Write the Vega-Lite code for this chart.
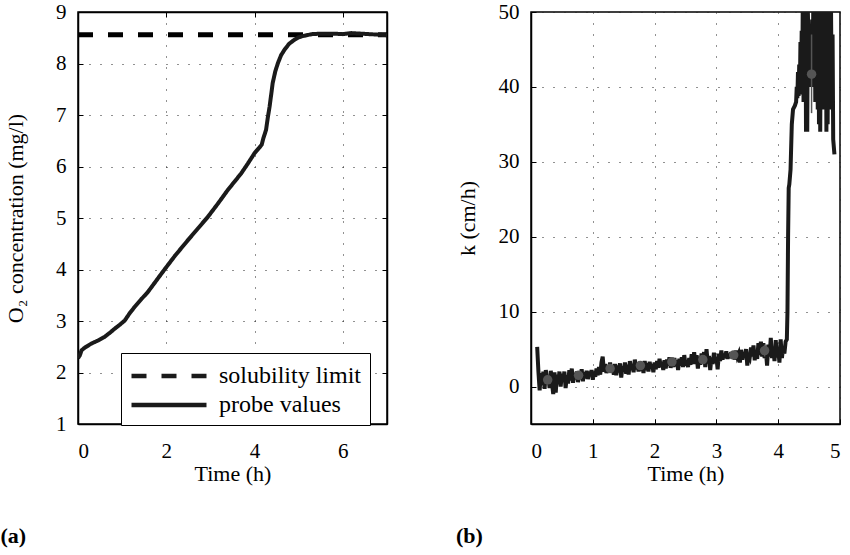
{
  "$schema": "https://vega.github.io/schema/vega-lite/v6.json",
  "background": "white",
  "padding": {"left": -1, "top": 0, "right": 0, "bottom": 0},
  "spacing": 66,
  "config": {
    "font": "Liberation Serif",
    "view": {"stroke": "black", "strokeWidth": 1.5},
    "axis": {
      "labelFont": "Liberation Serif", "labelFontSize": 21, "labelColor": "black",
      "titleFont": "Liberation Serif", "titleFontSize": 22, "titleFontWeight": "normal", "titleColor": "black",
      "domainColor": "black", "domainWidth": 1.5,
      "tickColor": "black", "tickSize": -5, "tickWidth": 1,
      "gridColor": "#222", "gridDash": [1, 10], "gridWidth": 1, "gridOpacity": 1
    },
    "axisX": {"labelPadding": 21, "titlePadding": 2},
    "axisY": {"labelPadding": 17},
    "legend": {
      "labelFont": "Liberation Serif", "labelFontSize": 24, "labelColor": "black"
    }
  },
  "hconcat": [
    {
      "width": 309, "height": 412,
      "title": {"text": "(a)", "orient": "bottom", "anchor": "start", "frame": "bounds", "fontSize": 22, "font": "Liberation Serif", "fontWeight": "bold", "offset": 42, "dx": -4, "color": "black"},
      "layer": [
        {
          "data": {"values": [
            {"t": 0, "v": 8.56, "series": "solubility limit"},
            {"t": 7, "v": 8.56, "series": "solubility limit"}
          ]},
          "mark": {"type": "line", "strokeWidth": 5, "color": "black", "clip": true},
          "encoding": {
            "x": {"field": "t", "type": "quantitative", "scale": {"domain": [0, 7], "nice": false},
                  "axis": {"orient": "bottom", "values": [0, 2, 4, 6], "title": "Time (h)", "grid": true}},
            "y": {"field": "v", "type": "quantitative", "scale": {"domain": [1, 9], "nice": false},
                  "axis": {"orient": "left", "values": [1, 2, 3, 4, 5, 6, 7, 8, 9], "title": "O₂ concentration (mg/l)", "grid": true, "titlePadding": 28}},
            "strokeDash": {"field": "series", "type": "nominal",
              "scale": {"domain": ["solubility limit", "probe values"], "range": [[15, 15], [1, 0]]},
              "legend": {"title": null, "orient": "none", "legendX": 43, "legendY": 341, "strokeColor": "black", "fillColor": "white", "padding": 8,
                         "symbolType": "M-1,0H5", "symbolSize": 625, "symbolStrokeWidth": 4.5, "symbolStrokeColor": "black", "symbolFillColor": "transparent",
                         "labelOffset": 60, "rowPadding": 2, "labelBaseline": "middle"}}
          }
        },
        {
          "data": {"values": [
            {"t": 0, "v": 2.28, "series": "probe values"},
            {"t": 0.04, "v": 2.33, "series": "probe values"},
            {"t": 0.08, "v": 2.43, "series": "probe values"},
            {"t": 0.15, "v": 2.48, "series": "probe values"},
            {"t": 0.3, "v": 2.56, "series": "probe values"},
            {"t": 0.45, "v": 2.62, "series": "probe values"},
            {"t": 0.6, "v": 2.69, "series": "probe values"},
            {"t": 0.72, "v": 2.77, "series": "probe values"},
            {"t": 0.83, "v": 2.85, "series": "probe values"},
            {"t": 0.95, "v": 2.93, "series": "probe values"},
            {"t": 1.06, "v": 3.01, "series": "probe values"},
            {"t": 1.17, "v": 3.15, "series": "probe values"},
            {"t": 1.28, "v": 3.27, "series": "probe values"},
            {"t": 1.43, "v": 3.42, "series": "probe values"},
            {"t": 1.58, "v": 3.56, "series": "probe values"},
            {"t": 1.77, "v": 3.78, "series": "probe values"},
            {"t": 1.96, "v": 4.0, "series": "probe values"},
            {"t": 2.2, "v": 4.27, "series": "probe values"},
            {"t": 2.49, "v": 4.57, "series": "probe values"},
            {"t": 2.72, "v": 4.8, "series": "probe values"},
            {"t": 2.94, "v": 5.02, "series": "probe values"},
            {"t": 3.17, "v": 5.28, "series": "probe values"},
            {"t": 3.39, "v": 5.54, "series": "probe values"},
            {"t": 3.55, "v": 5.71, "series": "probe values"},
            {"t": 3.7, "v": 5.87, "series": "probe values"},
            {"t": 3.85, "v": 6.06, "series": "probe values"},
            {"t": 4.0, "v": 6.26, "series": "probe values"},
            {"t": 4.1, "v": 6.36, "series": "probe values"},
            {"t": 4.16, "v": 6.42, "series": "probe values"},
            {"t": 4.2, "v": 6.55, "series": "probe values"},
            {"t": 4.26, "v": 6.71, "series": "probe values"},
            {"t": 4.3, "v": 6.95, "series": "probe values"},
            {"t": 4.34, "v": 7.16, "series": "probe values"},
            {"t": 4.38, "v": 7.42, "series": "probe values"},
            {"t": 4.41, "v": 7.62, "series": "probe values"},
            {"t": 4.47, "v": 7.85, "series": "probe values"},
            {"t": 4.53, "v": 8.01, "series": "probe values"},
            {"t": 4.6, "v": 8.16, "series": "probe values"},
            {"t": 4.68, "v": 8.27, "series": "probe values"},
            {"t": 4.78, "v": 8.38, "series": "probe values"},
            {"t": 4.9, "v": 8.46, "series": "probe values"},
            {"t": 5.0, "v": 8.51, "series": "probe values"},
            {"t": 5.13, "v": 8.54, "series": "probe values"},
            {"t": 5.3, "v": 8.57, "series": "probe values"},
            {"t": 5.51, "v": 8.58, "series": "probe values"},
            {"t": 5.8, "v": 8.58, "series": "probe values"},
            {"t": 6.0, "v": 8.57, "series": "probe values"},
            {"t": 6.19, "v": 8.59, "series": "probe values"},
            {"t": 6.4, "v": 8.58, "series": "probe values"},
            {"t": 6.6, "v": 8.57, "series": "probe values"},
            {"t": 6.8, "v": 8.56, "series": "probe values"},
            {"t": 7.0, "v": 8.55, "series": "probe values"}
          ]},
          "mark": {"type": "line", "strokeWidth": 4, "color": "#1a1a1a", "clip": true},
          "encoding": {
            "x": {"field": "t", "type": "quantitative", "axis": {"orient": "top", "values": [0, 2, 4, 6], "labels": false, "title": null, "grid": false}},
            "y": {"field": "v", "type": "quantitative", "axis": {"orient": "right", "values": [1, 2, 3, 4, 5, 6, 7, 8, 9], "labels": false, "title": null, "grid": false}},
            "strokeDash": {"field": "series", "type": "nominal"}
          }
        }
      ]
    },
    {
      "width": 309, "height": 412,
      "title": {"text": "(b)", "orient": "bottom", "anchor": "start", "frame": "bounds", "fontSize": 22, "font": "Liberation Serif", "fontWeight": "bold", "offset": 42, "dx": 0, "color": "black"},
      "layer": [
        {
          "data": {"values": [
            {"t": 0.10, "k": 5.3}, {"t": 0.12, "k": 2.0}, {"t": 0.14, "k": -0.5}, {"t": 0.16, "k": 1.8}, {"t": 0.18, "k": 0.2},
            {"t": 0.20, "k": 2.0}, {"t": 0.22, "k": -0.3}, {"t": 0.24, "k": 2.2}, {"t": 0.26, "k": 0.5}, {"t": 0.28, "k": 1.5},
            {"t": 0.30, "k": -0.2}, {"t": 0.32, "k": 2.1}, {"t": 0.34, "k": 0.4}, {"t": 0.36, "k": -1.0}, {"t": 0.38, "k": 1.9},
            {"t": 0.40, "k": -0.8}, {"t": 0.42, "k": 1.6}, {"t": 0.44, "k": 0.3}, {"t": 0.46, "k": 2.0}, {"t": 0.48, "k": 0.0},
            {"t": 0.50, "k": 1.7}, {"t": 0.52, "k": 0.6}, {"t": 0.54, "k": 2.0}, {"t": 0.56, "k": -0.2}, {"t": 0.58, "k": 1.5},
            {"t": 0.60, "k": 0.4}, {"t": 0.62, "k": 2.2}, {"t": 0.64, "k": 0.8}, {"t": 0.66, "k": 2.4}, {"t": 0.68, "k": 0.5},
            {"t": 0.70, "k": 1.8}, {"t": 0.72, "k": 1.0}, {"t": 0.74, "k": 2.0}, {"t": 0.76, "k": 0.6}, {"t": 0.78, "k": 1.6},
            {"t": 0.80, "k": 1.0}, {"t": 0.82, "k": 2.3}, {"t": 0.84, "k": 0.7}, {"t": 0.86, "k": 1.9}, {"t": 0.88, "k": 1.1},
            {"t": 0.90, "k": 2.1}, {"t": 0.92, "k": 1.0}, {"t": 0.94, "k": 2.0}, {"t": 0.96, "k": 1.4}, {"t": 0.98, "k": 2.2},
            {"t": 1.00, "k": 0.9}, {"t": 1.02, "k": 2.0}, {"t": 1.04, "k": 1.3}, {"t": 1.06, "k": 2.4}, {"t": 1.08, "k": 1.5},
            {"t": 1.10, "k": 2.6}, {"t": 1.12, "k": 1.6}, {"t": 1.14, "k": 3.2}, {"t": 1.16, "k": 4.0}, {"t": 1.18, "k": 2.0},
            {"t": 1.20, "k": 3.0}, {"t": 1.22, "k": 1.8}, {"t": 1.24, "k": 2.8}, {"t": 1.26, "k": 2.0}, {"t": 1.28, "k": 3.2},
            {"t": 1.30, "k": 2.1}, {"t": 1.32, "k": 2.6}, {"t": 1.34, "k": 1.6}, {"t": 1.36, "k": 3.0}, {"t": 1.38, "k": 1.5},
            {"t": 1.40, "k": 2.8}, {"t": 1.42, "k": 1.9}, {"t": 1.44, "k": 3.1}, {"t": 1.46, "k": 1.2}, {"t": 1.48, "k": 2.7},
            {"t": 1.50, "k": 2.0}, {"t": 1.52, "k": 3.2}, {"t": 1.54, "k": 1.7}, {"t": 1.56, "k": 2.9}, {"t": 1.58, "k": 1.6},
            {"t": 1.60, "k": 3.4}, {"t": 1.62, "k": 2.2}, {"t": 1.64, "k": 3.0}, {"t": 1.66, "k": 1.9}, {"t": 1.68, "k": 3.6},
            {"t": 1.70, "k": 2.3}, {"t": 1.72, "k": 3.2}, {"t": 1.74, "k": 2.0}, {"t": 1.76, "k": 3.3}, {"t": 1.78, "k": 2.1},
            {"t": 1.80, "k": 3.0}, {"t": 1.82, "k": 1.8}, {"t": 1.84, "k": 3.4}, {"t": 1.86, "k": 2.2}, {"t": 1.88, "k": 3.1},
            {"t": 1.90, "k": 2.0}, {"t": 1.92, "k": 3.3}, {"t": 1.94, "k": 2.4}, {"t": 1.96, "k": 3.0}, {"t": 1.98, "k": 1.9},
            {"t": 2.00, "k": 3.2}, {"t": 2.02, "k": 2.3}, {"t": 2.04, "k": 3.4}, {"t": 2.06, "k": 2.5}, {"t": 2.08, "k": 3.7},
            {"t": 2.10, "k": 2.6}, {"t": 2.12, "k": 3.3}, {"t": 2.14, "k": 2.2}, {"t": 2.16, "k": 3.5}, {"t": 2.18, "k": 2.4},
            {"t": 2.20, "k": 3.6}, {"t": 2.22, "k": 2.8}, {"t": 2.24, "k": 3.9}, {"t": 2.26, "k": 2.5}, {"t": 2.28, "k": 3.4},
            {"t": 2.30, "k": 2.6}, {"t": 2.32, "k": 3.8}, {"t": 2.34, "k": 2.7}, {"t": 2.36, "k": 3.5}, {"t": 2.38, "k": 2.2},
            {"t": 2.40, "k": 3.7}, {"t": 2.42, "k": 2.8}, {"t": 2.44, "k": 3.9}, {"t": 2.46, "k": 2.6}, {"t": 2.48, "k": 4.2},
            {"t": 2.50, "k": 2.8}, {"t": 2.52, "k": 3.5}, {"t": 2.54, "k": 2.6}, {"t": 2.56, "k": 3.8}, {"t": 2.58, "k": 2.9},
            {"t": 2.60, "k": 4.3}, {"t": 2.62, "k": 3.0}, {"t": 2.64, "k": 4.6}, {"t": 2.66, "k": 3.0}, {"t": 2.68, "k": 4.2},
            {"t": 2.70, "k": 2.4}, {"t": 2.72, "k": 4.0}, {"t": 2.74, "k": 2.9}, {"t": 2.76, "k": 4.4}, {"t": 2.78, "k": 3.3},
            {"t": 2.80, "k": 4.6}, {"t": 2.82, "k": 2.6}, {"t": 2.84, "k": 5.0}, {"t": 2.86, "k": 3.1}, {"t": 2.88, "k": 4.1},
            {"t": 2.90, "k": 2.2}, {"t": 2.92, "k": 3.9}, {"t": 2.94, "k": 3.0}, {"t": 2.96, "k": 4.5}, {"t": 2.98, "k": 3.2},
            {"t": 3.00, "k": 3.9}, {"t": 3.02, "k": 2.3}, {"t": 3.04, "k": 4.4}, {"t": 3.06, "k": 3.4}, {"t": 3.08, "k": 4.8},
            {"t": 3.10, "k": 3.6}, {"t": 3.12, "k": 4.4}, {"t": 3.14, "k": 3.8}, {"t": 3.16, "k": 4.7}, {"t": 3.18, "k": 3.7},
            {"t": 3.20, "k": 4.4}, {"t": 3.22, "k": 3.8}, {"t": 3.24, "k": 4.6}, {"t": 3.26, "k": 3.9}, {"t": 3.28, "k": 4.5},
            {"t": 3.30, "k": 3.6}, {"t": 3.32, "k": 4.8}, {"t": 3.34, "k": 4.0}, {"t": 3.36, "k": 4.4}, {"t": 3.38, "k": 3.2},
            {"t": 3.40, "k": 4.9}, {"t": 3.42, "k": 3.6}, {"t": 3.44, "k": 4.6}, {"t": 3.46, "k": 3.9}, {"t": 3.48, "k": 5.0},
            {"t": 3.50, "k": 2.8}, {"t": 3.52, "k": 4.3}, {"t": 3.54, "k": 3.9}, {"t": 3.56, "k": 5.2}, {"t": 3.58, "k": 4.0},
            {"t": 3.60, "k": 5.5}, {"t": 3.62, "k": 3.5}, {"t": 3.64, "k": 4.7}, {"t": 3.66, "k": 3.7}, {"t": 3.68, "k": 5.8},
            {"t": 3.70, "k": 4.2}, {"t": 3.72, "k": 6.0}, {"t": 3.74, "k": 4.0}, {"t": 3.76, "k": 5.8}, {"t": 3.78, "k": 3.8},
            {"t": 3.80, "k": 4.9}, {"t": 3.82, "k": 2.8}, {"t": 3.84, "k": 5.6}, {"t": 3.86, "k": 4.0}, {"t": 3.88, "k": 6.5},
            {"t": 3.90, "k": 3.8}, {"t": 3.92, "k": 5.2}, {"t": 3.94, "k": 3.4}, {"t": 3.96, "k": 6.2}, {"t": 3.98, "k": 3.9},
            {"t": 4.00, "k": 5.0}, {"t": 4.02, "k": 3.2}, {"t": 4.04, "k": 6.3}, {"t": 4.06, "k": 3.8}, {"t": 4.08, "k": 5.3},
            {"t": 4.10, "k": 4.4}, {"t": 4.12, "k": 6.0}, {"t": 4.14, "k": 6.3}, {"t": 4.15, "k": 10.0}, {"t": 4.16, "k": 20.0},
            {"t": 4.17, "k": 26.5}, {"t": 4.18, "k": 27.0}, {"t": 4.20, "k": 29.0}, {"t": 4.22, "k": 35.0}, {"t": 4.24, "k": 37.0},
            {"t": 4.27, "k": 37.5}, {"t": 4.29, "k": 38.0}, {"t": 4.30, "k": 40.0}, {"t": 4.31, "k": 38.5}, {"t": 4.32, "k": 42.0},
            {"t": 4.33, "k": 38.8}, {"t": 4.34, "k": 43.0}, {"t": 4.35, "k": 39.0}, {"t": 4.36, "k": 46.0}, {"t": 4.37, "k": 40.0},
            {"t": 4.38, "k": 47.5}, {"t": 4.39, "k": 41.0}, {"t": 4.40, "k": 55}, {"t": 4.41, "k": 38}, {"t": 4.42, "k": 52},
            {"t": 4.43, "k": 45}, {"t": 4.44, "k": 55}, {"t": 4.45, "k": 34}, {"t": 4.46, "k": 48}, {"t": 4.47, "k": 34},
            {"t": 4.48, "k": 50}, {"t": 4.50, "k": 42}, {"t": 4.51, "k": 48}, {"t": 4.52, "k": 40}, {"t": 4.53, "k": 47},
            {"t": 4.54, "k": 42}, {"t": 4.55, "k": 49}, {"t": 4.56, "k": 40}, {"t": 4.57, "k": 55}, {"t": 4.58, "k": 47},
            {"t": 4.59, "k": 55}, {"t": 4.60, "k": 38}, {"t": 4.61, "k": 48}, {"t": 4.62, "k": 38}, {"t": 4.63, "k": 49},
            {"t": 4.64, "k": 37}, {"t": 4.65, "k": 55}, {"t": 4.66, "k": 35}, {"t": 4.67, "k": 55}, {"t": 4.68, "k": 34},
            {"t": 4.69, "k": 50}, {"t": 4.70, "k": 45}, {"t": 4.71, "k": 55}, {"t": 4.72, "k": 37}, {"t": 4.73, "k": 46},
            {"t": 4.74, "k": 38}, {"t": 4.75, "k": 55}, {"t": 4.76, "k": 42}, {"t": 4.77, "k": 55}, {"t": 4.78, "k": 34},
            {"t": 4.79, "k": 50}, {"t": 4.80, "k": 35}, {"t": 4.81, "k": 55}, {"t": 4.82, "k": 40}, {"t": 4.83, "k": 52},
            {"t": 4.84, "k": 37}, {"t": 4.85, "k": 55}, {"t": 4.86, "k": 45}, {"t": 4.87, "k": 38}, {"t": 4.88, "k": 47},
            {"t": 4.89, "k": 33}, {"t": 4.91, "k": 31}
          ]},
          "mark": {"type": "line", "strokeWidth": 4, "color": "#1a1a1a", "clip": true, "strokeJoin": "miter"},
          "encoding": {
            "x": {"field": "t", "type": "quantitative", "scale": {"domain": [0, 5], "nice": false},
                  "axis": {"orient": "bottom", "values": [0, 1, 2, 3, 4, 5], "title": "Time (h)", "grid": true}},
            "y": {"field": "k", "type": "quantitative", "scale": {"domain": [-5, 50], "nice": false, "zero": false},
                  "axis": {"orient": "left", "values": [0, 10, 20, 30, 40, 50], "title": "k (cm/h)", "grid": true, "titlePadding": 19}}
          }
        },
        {
          "data": {"values": [
            {"t": 0.27, "m": 0.9, "lo": 0.5, "hi": 1.3},
            {"t": 0.77, "m": 1.5, "lo": 1.1, "hi": 1.9},
            {"t": 1.28, "m": 2.4, "lo": 2.0, "hi": 2.8},
            {"t": 1.77, "m": 2.8, "lo": 2.4, "hi": 3.2},
            {"t": 2.28, "m": 3.3, "lo": 2.9, "hi": 3.7},
            {"t": 2.78, "m": 3.6, "lo": 3.2, "hi": 4.0},
            {"t": 3.28, "m": 4.2, "lo": 3.8, "hi": 4.6},
            {"t": 3.78, "m": 4.8, "lo": 4.0, "hi": 5.6},
            {"t": 4.54, "m": 41.7, "lo": 36.5, "hi": 47.0}
          ]},
          "layer": [
            {
              "mark": {"type": "rule", "color": "#555555", "strokeWidth": 1.5},
              "encoding": {
                "x": {"field": "t", "type": "quantitative", "axis": {"orient": "top", "values": [0, 1, 2, 3, 4, 5], "labels": false, "title": null, "grid": false}},
                "y": {"field": "lo", "type": "quantitative", "axis": {"orient": "right", "values": [0, 10, 20, 30, 40, 50], "labels": false, "title": null, "grid": false}},
                "y2": {"field": "hi"}
              }
            },
            {
              "mark": {"type": "circle", "color": "#555555", "size": 90, "opacity": 1},
              "encoding": {
                "x": {"field": "t", "type": "quantitative", "axis": null},
                "y": {"field": "m", "type": "quantitative", "axis": null}
              }
            }
          ]
        }
      ]
    }
  ]
}
